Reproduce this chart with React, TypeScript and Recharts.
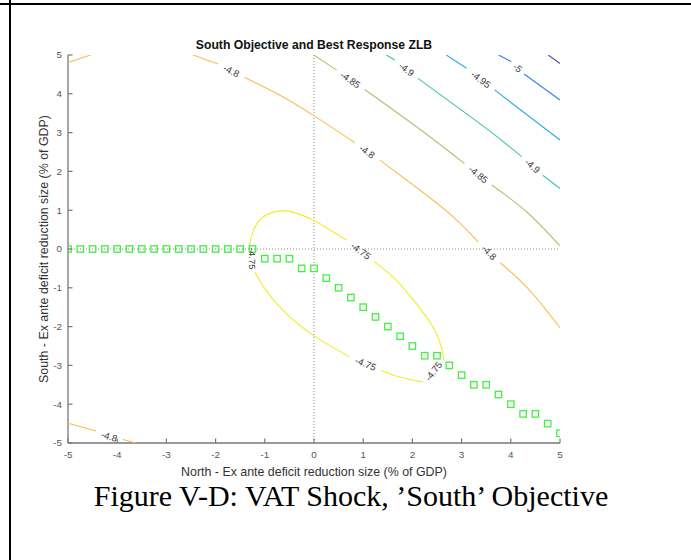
import React from 'react'
import { ComposedChart, Scatter, XAxis, YAxis, ReferenceLine } from 'recharts'

const xTicks = [-5, -4, -3, -2, -1, 0, 1, 2, 3, 4, 5]
const yTicks = [-5, -4, -3, -2, -1, 0, 1, 2, 3, 4, 5]

// best response of the South (green squares)
const bestX = [
  -5, -4.75, -4.5, -4.25, -4, -3.75, -3.5, -3.25, -3, -2.75, -2.5, -2.25, -2, -1.75, -1.5, -1.25,
  -1, -0.75, -0.5, -0.25, 0, 0.25, 0.5, 0.75, 1, 1.25, 1.5, 1.75, 2, 2.25, 2.5, 2.75, 3, 3.25, 3.5,
  3.75, 4, 4.25, 4.5, 4.75, 5,
]
const bestY = [
  0, 0, 0, 0, 0, 0, 0, 0, 0, 0, 0, 0, 0, 0, 0, 0,
  -0.25, -0.25, -0.25, -0.5, -0.5, -0.75, -1, -1.25, -1.5, -1.75, -2, -2.25, -2.5, -2.75, -2.75, -3,
  -3.25, -3.5, -3.5, -3.75, -4, -4.25, -4.25, -4.5, -4.75,
]

// contour pieces [x, y], cut where the labels sit
const c475a = [[-1.31, 0.1], [-1.23, 0.48], [-1.03, 0.83], [-0.76, 0.97], [-0.49, 0.97], [-0.01, 0.74], [0.39, 0.44], [0.66, 0.23]]
const c475b = [[1.23, -0.33], [1.67, -0.8], [2.08, -1.41], [2.42, -2.01], [2.59, -2.53], [2.64, -2.87]]
const c475c = [[2.22, -3.43], [1.74, -3.3], [1.37, -3.13]]
const c475d = [[0.72, -2.78], [-0.02, -2.22], [-0.63, -1.58], [-1.0, -1.02], [-1.2, -0.59]]

const c48a = [[-2.46, 5], [-1.95, 4.77]]
const c48b = [[-1.41, 4.42], [-0.7, 3.97], [-0.02, 3.45], [0.83, 2.74]]
const c48c = [[1.34, 2.29], [2.15, 1.52], [2.83, 0.83], [3.34, 0.18]]
const c48d = [[3.79, -0.36], [4.38, -1.06], [5, -2.03]]
const c48e = [[-5, 4.81], [-4.54, 5]]
const c48f = [[-5, -4.49], [-4.43, -4.69]]
const c48g = [[-3.88, -4.91], [-3.62, -5]]

const c485a = [[0, 5], [0.46, 4.61]]
const c485b = [[1.03, 4.11], [2.18, 3.06], [3.06, 2.2]]
const c485c = [[3.61, 1.65], [4.32, 0.96], [5, 0.08]]

const c49a = [[1.47, 5], [1.64, 4.87]]
const c49b = [[2.11, 4.4], [3.54, 3.07], [4.22, 2.38]]
const c49c = [[4.65, 1.9], [5, 1.56]]

const c495a = [[2.69, 5], [3.1, 4.66]]
const c495b = [[3.67, 4.1], [5, 2.81]]

const c5a = [[3.75, 5], [4.01, 4.83]]
const c5b = [[4.27, 4.51], [5, 3.84]]

const c505a = [[4.76, 5], [5, 4.78]]

const pieces = [
  { level: '-4.75', pts: [c475a, c475b, c475c, c475d] },
  { level: '-4.8', pts: [c48a, c48b, c48c, c48d, c48e, c48f, c48g] },
  { level: '-4.85', pts: [c485a, c485b, c485c] },
  { level: '-4.9', pts: [c49a, c49b, c49c] },
  { level: '-4.95', pts: [c495a, c495b] },
  { level: '-5', pts: [c5a, c5b] },
  { level: '-5.05', pts: [c505a] },
]

const levelColors: Record<string, string> = {
  '-4.75': '#f3ec22',
  '-4.8': '#fbbd52',
  '-4.85': '#aec46e',
  '-4.9': '#40c2a8',
  '-4.95': '#2ea9e2',
  '-5': '#3a80e8',
  '-5.05': '#5a48b0',
}

// contour labels
const labelText = ['-4.75', '-4.75', '-4.75', '-4.75', '-4.8', '-4.8', '-4.8', '-4.8', '-4.85', '-4.85', '-4.9', '-4.9', '-4.95', '-5']
const labelX = [0.95, 2.43, 1.05, -1.26, -1.68, 1.08, 3.56, -4.16, 0.74, 3.34, 1.88, 4.44, 3.39, 4.14]
const labelY = [-0.05, -3.15, -2.96, -0.25, 4.59, 2.51, -0.09, -4.83, 4.36, 1.92, 4.63, 2.14, 4.37, 4.67]
const labelAngle = [37, -52, 23, 90, 26, 35, 45, 17, 34, 39, 38, 40, 37, 40]

const bestData = bestX.map((x, i) => ({ x, y: bestY[i] }))
const labelData = labelText.map((t, i) => ({ x: labelX[i], y: labelY[i], t, a: labelAngle[i] }))

const XTick = (p: any) => (
  <g>
    <line x1={p.x} x2={p.x} y1={p.y - 8} y2={p.y - 12.5} stroke="#777" strokeWidth={1.2} />
    <text x={p.x} y={p.y} dy="0.71em" textAnchor="middle" fontSize={9.8} fill="#555">{p.payload.value}</text>
  </g>
)

const YTick = (p: any) => (
  <g>
    <line x1={p.x + 6} x2={p.x + 10.5} y1={p.y} y2={p.y} stroke="#777" strokeWidth={1.2} />
    <text x={p.x} y={p.y} dy="0.355em" textAnchor="end" fontSize={9.8} fill="#555">{p.payload.value}</text>
  </g>
)

const Square = (p: any) => (
  <rect x={p.cx - 3.2} y={p.cy - 3.2} width={6.4} height={6.4} fill="none" stroke="#44ee44" strokeWidth={1.3} />
)

const ContourLabel = (p: any) => (
  <text
    x={p.cx}
    y={p.cy}
    dy="0.355em"
    textAnchor="middle"
    fontSize={9.5}
    fill="#333"
    transform={`rotate(${p.payload.a}, ${p.cx}, ${p.cy})`}
  >
    {p.payload.t}
  </text>
)

const Nothing = () => <g />

export default function App() {
  return (
    <div style={{ position: 'absolute', left: 0, top: 0, width: 691, height: 560, background: '#fff', fontFamily: '"Liberation Sans", Arial, sans-serif' }}>
      <div style={{ position: 'absolute', left: 0, top: 3, width: 691, height: 2, background: '#000' }} />
      <div style={{ position: 'absolute', left: 9, top: 0, width: 2, height: 560, background: '#000' }} />
      <div style={{ position: 'absolute', left: 0, top: 37.5, width: 628, textAlign: 'center', fontSize: 12.2, lineHeight: '14px', fontWeight: 'bold', color: '#111' }}>
        South Objective and Best Response ZLB
      </div>
      <ComposedChart width={691} height={560} margin={{ top: 55, right: 131, bottom: 87, left: 8 }}>
        <XAxis
          type="number"
          dataKey="x"
          domain={[-5, 5]}
          ticks={xTicks}
          allowDataOverflow
          height={30}
          tickSize={0}
          tickMargin={8}
          tickLine={false}
          tick={<XTick />}
          axisLine={{ stroke: '#777', strokeWidth: 1.3 }}
          label={{ value: 'North - Ex ante deficit reduction size (% of GDP)', position: 'insideTop', offset: 24, fontSize: 12.4, fill: '#333' }}
        />
        <YAxis
          type="number"
          dataKey="y"
          domain={[-5, 5]}
          ticks={yTicks}
          allowDataOverflow
          width={60}
          tickSize={0}
          tickMargin={6}
          tickLine={false}
          tick={<YTick />}
          axisLine={{ stroke: '#777', strokeWidth: 1.3 }}
          label={{ value: 'South - Ex ante deficit reduction size (% of GDP)', angle: -90, position: 'insideLeft', offset: 35.5, fontSize: 12.4, fill: '#333', style: { textAnchor: 'middle' } }}
        />
        <ReferenceLine x={0} stroke="#8a8a8a" strokeDasharray="1 2" />
        <ReferenceLine y={0} stroke="#8a8a8a" strokeDasharray="1 2" />
        {pieces.map(p =>
          p.pts.map((seg, j) => (
            <Scatter
              key={p.level + '-' + j}
              data={seg.map(([x, y]) => ({ x, y }))}
              line={{ stroke: levelColors[p.level], strokeWidth: 1.1 }}
              lineType="joint"
              lineJointType="natural"
              shape={<Nothing />}
              isAnimationActive={false}
            />
          ))
        )}
        <Scatter data={bestData} shape={<Square />} isAnimationActive={false} />
        <Scatter data={labelData} shape={<ContourLabel />} isAnimationActive={false} />
      </ComposedChart>
      <div style={{ position: 'absolute', left: 0, top: 481, width: 702, textAlign: 'center', fontSize: 30, lineHeight: '30px', color: '#000', fontFamily: '"Liberation Serif", "Times New Roman", serif' }}>
        Figure V-D: VAT Shock, ’South’ Objective
      </div>
    </div>
  )
}
